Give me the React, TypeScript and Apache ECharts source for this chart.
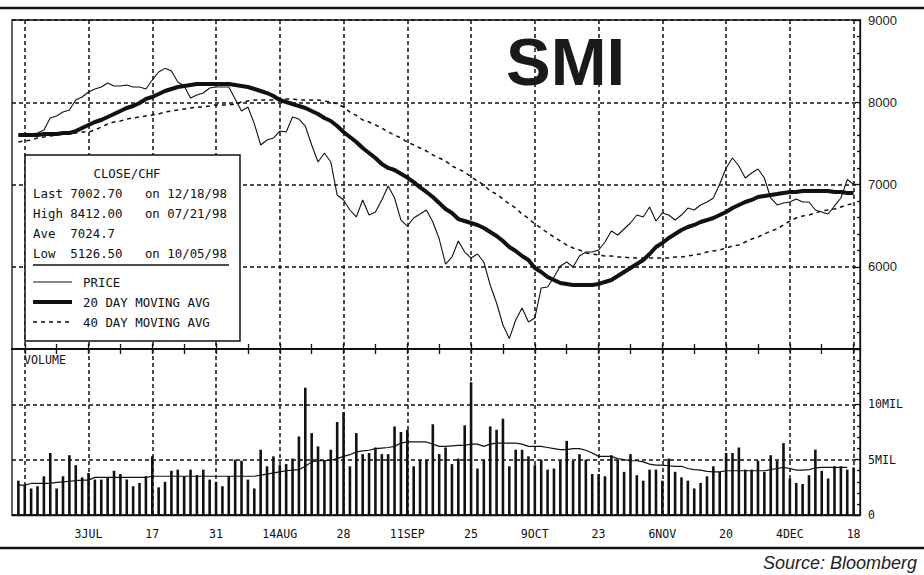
import React, { useEffect, useRef } from "react";
import * as echarts from "echarts";

// Trading days (weekdays) shown on the category axis: 17 Jun 1998 .. 21 Dec 1998
const firstDay = "1998-06-17";
const lastDay = "1998-12-21";

// Every 10 trading days: dashed vertical grid lines
const gridDates = [
  "1998-06-19", "1998-07-03", "1998-07-17", "1998-07-31", "1998-08-14", "1998-08-28", "1998-09-11",
  "1998-09-25", "1998-10-09", "1998-10-23", "1998-11-06", "1998-11-20", "1998-12-04", "1998-12-18",
];
const labelDates = [
  "1998-07-03", "1998-07-17", "1998-07-31", "1998-08-14", "1998-08-28", "1998-09-11", "1998-09-25",
  "1998-10-09", "1998-10-23", "1998-11-06", "1998-11-20", "1998-12-04", "1998-12-18",
];
const labelTexts = ["3JUL", "17", "31", "14AUG", "28", "11SEP", "25", "9OCT", "23", "6NOV", "20", "4DEC", "18"];

// Daily values, 18 Jun 1998 .. 18 Dec 1998 (132 trading days)
const price = [
  7602, 7600, 7615, 7626, 7663, 7808, 7833, 7881, 7906, 8027,
  8064, 8125, 8161, 8185, 8234, 8198, 8198, 8210, 8185, 8185,
  8161, 8270, 8368, 8412, 8380, 8246, 8198, 8052, 8088, 8112,
  8173, 8185, 8185, 8185, 8040, 7894, 7942, 7740, 7480, 7541,
  7565, 7650, 7638, 7821, 7796, 7711, 7480, 7274, 7383, 7274,
  6872, 6812, 6690, 6605, 6812, 6630, 6666, 6812, 6982, 6836,
  6568, 6495, 6593, 6641, 6690, 6544, 6340, 6033, 6118, 6313,
  6179, 6106, 6155, 6058, 5778, 5559, 5292, 5126.5, 5353, 5498,
  5328, 5377, 5742, 5754, 5875, 6009, 6058, 5997, 6131, 6179,
  6179, 6204, 6301, 6435, 6386, 6459, 6532, 6629, 6605, 6727,
  6556, 6654, 6629, 6568, 6629, 6714, 6690, 6751, 6787, 6836,
  7006, 7201, 7322, 7225, 7079, 7140, 7188, 7079, 6836, 6751,
  6775, 6787, 6824, 6787, 6787, 6690, 6666, 6641, 6739, 6836,
  7060, 7002.7,
];
const ma20 = [
  7602, 7602, 7602, 7602, 7614, 7614, 7614, 7626, 7626, 7650,
  7687, 7723, 7760, 7784, 7821, 7857, 7894, 7930, 7954, 7991,
  8040, 8064, 8100, 8137, 8161, 8185, 8198, 8210, 8222, 8222,
  8222, 8222, 8222, 8222, 8210, 8198, 8185, 8161, 8137, 8112,
  8076, 8027, 8003, 7979, 7954, 7930, 7894, 7857, 7809, 7772,
  7711, 7638, 7578, 7517, 7444, 7383, 7322, 7249, 7201, 7176,
  7130, 7085, 7030, 6965, 6909, 6848, 6775, 6702, 6653, 6580,
  6556, 6532, 6508, 6471, 6423, 6374, 6313, 6240, 6192, 6131,
  6082, 5985, 5936, 5875, 5839, 5802, 5790, 5778, 5778, 5778,
  5778, 5790, 5815, 5839, 5887, 5936, 5985, 6033, 6082, 6155,
  6240, 6289, 6350, 6398, 6447, 6483, 6508, 6544, 6568, 6593,
  6629, 6666, 6714, 6751, 6787, 6812, 6848, 6860, 6872, 6884,
  6897, 6909, 6909, 6921, 6921, 6921, 6921, 6921, 6909, 6909,
  6897, 6897,
];
const ma40 = [
  7517, 7529, 7541, 7565, 7578, 7590, 7602, 7614, 7626, 7626,
  7638, 7638, 7663, 7699, 7736, 7760, 7772, 7796, 7809, 7821,
  7833, 7845, 7857, 7881, 7894, 7906, 7918, 7930, 7942, 7942,
  7954, 7967, 7967, 7967, 7979, 8003, 8015, 8027, 8027, 8027,
  8027, 8040, 8040, 8040, 8027, 8027, 8027, 8027, 8015, 8003,
  7979, 7942, 7880, 7840, 7784, 7760, 7723, 7687, 7638, 7602,
  7565, 7517, 7480, 7444, 7407, 7359, 7322, 7286, 7225, 7188,
  7152, 7091, 7043, 6994, 6921, 6884, 6824, 6763, 6714, 6640,
  6590, 6520, 6471, 6410, 6362, 6313, 6264, 6228, 6204, 6167,
  6155, 6143, 6131, 6131, 6118, 6118, 6106, 6106, 6106, 6106,
  6106, 6106, 6106, 6118, 6118, 6131, 6143, 6155, 6179, 6192,
  6204, 6228, 6252, 6264, 6301, 6337, 6362, 6398, 6435, 6459,
  6508, 6556, 6593, 6617, 6629, 6653, 6678, 6690, 6702, 6727,
  6751, 6775,
];
// Volume in millions of shares
const volume = [
  3.1, 2.7, 2.4, 2.6, 3.5, 5.6, 2.4, 3.5, 5.4, 4.5,
  3.4, 3.8, 3.2, 3.2, 3.4, 4.0, 3.7, 3.2, 2.6, 2.9,
  3.5, 5.3, 2.5, 3.0, 4.0, 4.1, 3.5, 4.1, 3.6, 4.1,
  3.2, 3.0, 2.6, 3.5, 5.0, 4.9, 3.2, 2.4, 5.9, 4.4,
  5.3, 4.5, 4.6, 5.1, 7.1, 11.5, 7.4, 6.2, 4.9, 5.9,
  8.4, 9.3, 4.4, 7.4, 5.5, 5.6, 6.1, 5.5, 5.5, 8.0,
  7.5, 7.7, 4.4, 5.0, 5.0, 8.2, 5.5, 6.1, 4.6, 5.1,
  8.1, 12.0, 4.2, 5.0, 8.0, 7.7, 8.7, 4.4, 5.9, 5.9,
  5.3, 4.5, 5.0, 4.1, 4.2, 4.9, 6.7, 4.9, 5.5, 5.0,
  3.7, 3.7, 3.5, 5.4, 5.0, 3.9, 5.5, 3.6, 3.1, 4.1,
  4.1, 3.1, 5.1, 3.9, 3.4, 3.1, 2.4, 2.9, 3.5, 4.4,
  3.9, 5.6, 5.6, 6.1, 4.1, 4.1, 4.9, 3.9, 5.4, 4.9,
  6.5, 3.3, 2.9, 2.8, 3.6, 5.9, 4.0, 3.3, 4.4, 4.4,
  4.1, 4.3,
];
const volumeAvg = [
  2.7, 2.7, 2.85, 2.85, 2.85, 2.85, 2.95, 3.0, 3.05, 3.1,
  3.15, 3.15, 3.4, 3.4, 3.4, 3.4, 3.4, 3.4, 3.4, 3.4,
  3.4, 3.5, 3.5, 3.5, 3.5, 3.5, 3.5, 3.5, 3.5, 3.5,
  3.5, 3.5, 3.5, 3.5, 3.5, 3.5, 3.5, 3.5, 3.6, 3.7,
  3.8, 3.9, 4.0, 4.05, 4.1, 4.4, 4.8, 4.9, 4.9, 4.95,
  5.1, 5.3, 5.45, 5.7, 5.8, 5.85, 6.0, 6.05, 6.1, 6.2,
  6.5, 6.6, 6.6, 6.6, 6.6, 6.4, 6.2, 6.2, 6.25, 6.3,
  6.3, 6.4, 6.4, 6.2, 6.4, 6.5, 6.5, 6.5, 6.5, 6.4,
  6.2, 6.2, 6.2, 6.1, 6.0, 5.9, 5.9, 6.0, 6.0, 5.85,
  5.6, 5.3, 5.3, 5.3, 5.1, 5.0, 4.9, 4.9, 4.8, 4.6,
  4.5, 4.5, 4.45, 4.4, 4.4, 4.2, 4.1, 4.05, 3.95, 3.9,
  3.9, 4.0, 4.0, 4.0, 4.0, 4.0, 4.0, 4.0, 4.1, 4.2,
  4.3, 4.2, 4.05, 4.05, 4.1, 4.25, 4.3, 4.3, 4.3, 4.3,
  4.3, null,
];

const statsTitle = "CLOSE/CHF";
const statsRows = [
  "Last 7002.70   on 12/18/98",
  "High 8412.00   on 07/21/98",
  "Ave  7024.7",
  "Low  5126.50   on 10/05/98",
];
const legendNames = ["PRICE", "20 DAY MOVING AVG", "40 DAY MOVING AVG"];

function tradingDays(start: string, end: string): string[] {
  const out: string[] = [];
  const d = new Date(start + "T00:00:00Z");
  const e = new Date(end + "T00:00:00Z");
  while (d <= e) {
    const wd = d.getUTCDay();
    if (wd !== 0 && wd !== 6) out.push(d.toISOString().slice(0, 10));
    d.setUTCDate(d.getUTCDate() + 1);
  }
  return out;
}

const MONO = "'DejaVu Sans Mono', monospace";
const SANS = "'Liberation Sans', Arial, sans-serif";
const INK = "#111";

export default function App() {
  const ref = useRef<HTMLDivElement>(null);

  useEffect(() => {
    document.body.style.margin = "0";
    if (!ref.current) return;
    const chart = echarts.init(ref.current, undefined, { renderer: "svg" });

    const cats = tradingDays(firstDay, lastDay);
    const pad = (a: (number | null)[]) => [null, ...a, null];
    const labelMap: Record<string, string> = {};
    labelDates.forEach((d, i) => (labelMap[d] = labelTexts[i]));
    const isGrid = (i: number) => gridDates.indexOf(cats[i]) >= 0;
    const isLabel = (i: number) => labelMap[cats[i]] !== undefined;
    const isFriday = (i: number) => new Date(cats[i] + "T00:00:00Z").getUTCDay() === 5;

    const dashed = { color: INK, width: 1.5, type: [4, 3] as any };

    const gridLeft = 12;
    const gridWidth = 848;

    const legendY = [282, 302, 322];
    const sampleStyles = [
      { stroke: INK, lineWidth: 1.2 },
      { stroke: INK, lineWidth: 4 },
      { stroke: INK, lineWidth: 1.5, lineDash: [4, 4] },
    ];

    const txt = (text: string, x: number, y: number, extra: any = {}) => ({
      type: "text",
      z: 20,
      style: {
        text,
        x,
        y,
        fill: INK,
        fontSize: 12.4,
        fontFamily: MONO,
        align: "left",
        textAlign: "left",
        verticalAlign: "middle",
        textVerticalAlign: "middle",
        ...extra,
      },
    });

    const graphic: any[] = [
      { type: "line", z: 20, shape: { x1: 0, y1: 8, x2: 924, y2: 8 }, style: { stroke: INK, lineWidth: 2.5 } },
      { type: "line", z: 20, shape: { x1: 0, y1: 548, x2: 924, y2: 548 }, style: { stroke: INK, lineWidth: 2.5 } },
      {
        type: "rect",
        z: 15,
        shape: { x: 25, y: 155, width: 215, height: 186 },
        style: { fill: "#fff", stroke: INK, lineWidth: 1.5 },
      },
      txt(statsTitle, 127, 173, { align: "center", textAlign: "center" }),
      ...statsRows.map((r, i) => txt(r, 33, 193 + i * 20)),
      { type: "line", z: 20, shape: { x1: 33, y1: 265, x2: 229, y2: 265 }, style: { stroke: INK, lineWidth: 1.5 } },
      ...legendNames.map((n, i) => txt(n, 83, legendY[i])),
      ...legendNames.map((_, i) => ({
        type: "line",
        z: 20,
        shape: { x1: 33, y1: legendY[i], x2: 72, y2: legendY[i] },
        style: sampleStyles[i],
      })),
      txt("VOLUME", 24, 360, { fontSize: 11.6 }),
      txt("SMI", 506, 61, { fontSize: 67, fontFamily: SANS, fontWeight: "bold", fill: "#1a1a1a" }),
      txt("Source: Bloomberg", 917, 563, {
        fontSize: 18,
        fontFamily: SANS,
        fontStyle: "italic",
        fill: "#222",
        align: "right",
        textAlign: "right",
      }),
    ];

    const option: any = {
      animation: false,
      backgroundColor: "#fff",
      graphic,
      grid: [
        { left: gridLeft, width: gridWidth, top: 20, height: 329, show: true, borderColor: INK, borderWidth: 1.3 },
        { left: gridLeft, width: gridWidth, top: 349, height: 166, show: true, borderColor: INK, borderWidth: 1.3 },
      ],
      xAxis: [
        {
          gridIndex: 0,
          type: "category",
          data: cats,
          boundaryGap: false,
          position: "bottom",
          axisLine: { show: true, lineStyle: { color: INK, width: 2 } },
          axisTick: { show: true, inside: true, length: 5, interval: (i: number) => isFriday(i), lineStyle: { color: INK, width: 1.3 } },
          axisLabel: { show: false },
          splitLine: { show: true, interval: (i: number) => isGrid(i), lineStyle: dashed },
        },
        {
          gridIndex: 1,
          type: "category",
          data: cats,
          boundaryGap: false,
          position: "bottom",
          axisLine: { show: true, lineStyle: { color: INK, width: 1.3 } },
          axisTick: { show: false },
          axisLabel: {
            show: true,
            interval: (i: number) => isLabel(i),
            formatter: (v: string) => labelMap[v] || "",
            margin: 13,
            fontFamily: MONO,
            fontSize: 11.6,
            color: INK,
          },
          splitLine: { show: true, interval: (i: number) => isGrid(i), lineStyle: dashed },
        },
        {
          gridIndex: 1,
          type: "category",
          data: cats,
          boundaryGap: false,
          position: "top",
          axisLine: { show: false },
          axisTick: { show: true, inside: true, length: 5, interval: (i: number) => isFriday(i), lineStyle: { color: INK, width: 1.3 } },
          axisLabel: { show: false },
          splitLine: { show: false },
        },
      ],
      yAxis: [
        {
          gridIndex: 0,
          type: "value",
          position: "right",
          min: 5000,
          max: 9000,
          interval: 1000,
          axisLine: { show: true, lineStyle: { color: INK, width: 1.3 } },
          axisTick: { show: true, inside: true, length: 5, lineStyle: { color: INK, width: 1.3 } },
          minorTick: { show: true, splitNumber: 5, length: 3, lineStyle: { color: INK, width: 1.3 } },
          axisLabel: {
            showMinLabel: false,
            margin: 8,
            fontFamily: SANS,
            fontSize: 13,
            color: "#222",
            formatter: (v: number) => String(v),
          },
          splitLine: { show: true, lineStyle: dashed },
        },
        {
          gridIndex: 1,
          type: "value",
          position: "right",
          min: 0,
          max: 15,
          interval: 5,
          axisLine: { show: true, lineStyle: { color: INK, width: 1.3 } },
          axisTick: { show: true, inside: true, length: 5, lineStyle: { color: INK, width: 1.3 } },
          minorTick: { show: true, splitNumber: 5, length: 3, lineStyle: { color: INK, width: 1.3 } },
          axisLabel: {
            showMaxLabel: false,
            margin: 8,
            fontFamily: MONO,
            fontSize: 11.6,
            color: INK,
            formatter: (v: number) => (v === 0 ? "0" : v + "MIL"),
          },
          splitLine: { show: true, lineStyle: dashed },
        },
      ],
      series: [
        {
          name: legendNames[2],
          type: "line",
          xAxisIndex: 0,
          yAxisIndex: 0,
          data: pad(ma40),
          symbol: "none",
          lineStyle: { color: INK, width: 1.5, type: [4, 4] },
        },
        {
          name: legendNames[1],
          type: "line",
          xAxisIndex: 0,
          yAxisIndex: 0,
          data: pad(ma20),
          symbol: "none",
          lineStyle: { color: INK, width: 4 },
        },
        {
          name: legendNames[0],
          type: "line",
          xAxisIndex: 0,
          yAxisIndex: 0,
          data: pad(price),
          symbol: "none",
          lineStyle: { color: INK, width: 1.1 },
        },
        {
          name: "VOLUME",
          type: "bar",
          xAxisIndex: 1,
          yAxisIndex: 1,
          data: pad(volume),
          barWidth: 2.6,
          itemStyle: { color: INK },
        },
        {
          name: "VOLUME AVG",
          type: "line",
          xAxisIndex: 1,
          yAxisIndex: 1,
          data: pad(volumeAvg),
          symbol: "none",
          lineStyle: { color: INK, width: 1.2 },
          z: 3,
        },
      ],
    };

    chart.setOption(option);
    return () => chart.dispose();
  }, []);

  return <div ref={ref} style={{ width: 924, height: 575, background: "#fff" }} />;
}
